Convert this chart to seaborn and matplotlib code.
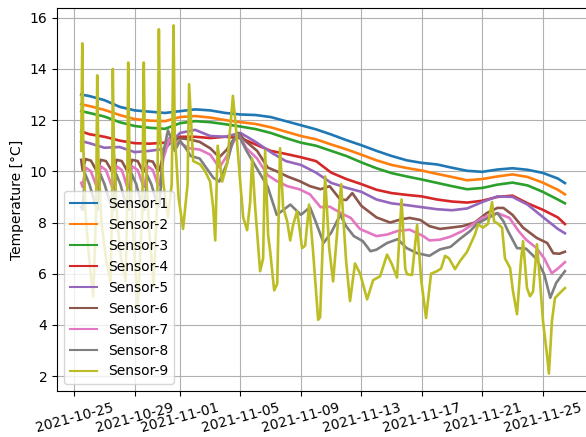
import numpy as np
import pandas as pd
import seaborn as sns
import matplotlib.pyplot as plt

START = pd.Timestamp('2021-10-25')

# sensors 1-5 share a (roughly) daily grid, days after 2021-10-25 00:00
days_a = [0.46, 1, 2, 3, 4, 5, 6, 7, 8, 9, 10, 11, 12, 13, 14, 15, 16, 17,
          18, 19, 20, 21, 22, 23, 24, 25, 26, 27, 28, 29, 30, 31, 32, 32.47]
sensor1 = [13.0, 12.94, 12.78, 12.52, 12.38, 12.33, 12.28, 12.35, 12.42, 12.38,
           12.28, 12.22, 12.2, 12.12, 11.96, 11.8, 11.64, 11.44, 11.22, 11.02,
           10.8, 10.6, 10.43, 10.33, 10.27, 10.14, 10.02, 9.98, 10.07, 10.12,
           10.06, 9.94, 9.72, 9.54]
sensor2 = [12.62, 12.55, 12.4, 12.2, 12.04, 11.98, 11.96, 12.12, 12.16, 12.1,
           12.0, 11.92, 11.85, 11.72, 11.55, 11.38, 11.25, 11.05, 10.86, 10.65,
           10.43, 10.25, 10.13, 10.03, 9.9, 9.78, 9.65, 9.7, 9.8, 9.88,
           9.78, 9.56, 9.28, 9.1]
sensor3 = [12.35, 12.28, 12.14, 11.92, 11.77, 11.7, 11.66, 11.88, 11.96, 11.92,
           11.84, 11.75, 11.65, 11.5, 11.3, 11.12, 11.0, 10.8, 10.6, 10.35,
           10.12, 9.93, 9.8, 9.68, 9.55, 9.42, 9.3, 9.35, 9.48, 9.56,
           9.45, 9.2, 8.9, 8.75]
sensor4 = [11.56, 11.45, 11.35, 11.2, 11.1, 11.08, 11.12, 11.35, 11.35, 11.3,
           11.35, 11.3, 11.05, 10.8, 10.68, 10.55, 10.4, 9.95, 9.7, 9.5,
           9.28, 9.15, 9.08, 9.02, 8.9, 8.82, 8.78, 8.85, 9.0, 9.05,
           8.75, 8.5, 8.2, 7.94]
sensor5 = [11.18, 11.1, 10.92, 10.95, 10.75, 10.8, 10.88, 11.5, 11.62, 11.38,
           11.35, 11.5, 11.15, 10.75, 10.4, 10.25, 9.95, 9.55, 9.36, 9.2,
           8.9, 8.75, 8.68, 8.6, 8.52, 8.48, 8.55, 8.8, 9.02, 9.0,
           8.7, 8.22, 7.75, 7.58]

days6 = [0.46, 0.55, 0.75, 1.1, 1.45, 1.55, 1.75, 2.1, 2.5, 2.6, 2.8, 3.15,
         3.5, 3.62, 3.82, 4.2, 4.55, 4.65, 4.85, 5.2, 5.55, 5.65, 5.9, 6.3,
         6.6, 6.9, 7.6, 8.3, 9.0, 9.6, 10.1, 10.5, 10.85, 11.4, 12.1, 12.8,
         13.4, 14.1, 14.9, 15.6, 16.3, 16.9, 17.6, 18.0, 18.4, 19.0, 20.0,
         20.9, 21.6, 22.2, 22.9, 23.5, 24.2, 24.9, 25.7, 26.5, 27.3, 28.0,
         28.4, 29.0, 29.7, 30.6, 31.3, 31.7, 32.1, 32.47]
sensor6 = [10.45, 10.05, 10.48, 10.42, 10.05, 10.0, 10.45, 10.4, 10.0, 9.98,
           10.45, 10.4, 10.02, 10.0, 10.45, 10.4, 10.0, 10.0, 10.42, 10.38,
           10.0, 10.05, 10.7, 11.3, 11.15, 11.3, 11.25, 11.15, 10.9, 10.55,
           10.85, 11.2, 11.5, 11.15, 10.8, 10.15, 10.0, 9.8, 9.62, 9.42,
           9.3, 9.42, 8.9, 8.88, 9.15, 8.65, 8.2, 8.0, 8.12, 8.18, 8.1,
           7.86, 7.75, 7.8, 7.86, 8.0, 8.37, 8.57, 8.57, 8.3, 7.8, 7.4,
           7.2, 6.8, 6.78, 6.86]

days7 = [0.46, 0.55, 0.75, 1.1, 1.45, 1.55, 1.75, 2.1, 2.5, 2.6, 2.8, 3.15,
         3.5, 3.62, 3.82, 4.2, 4.55, 4.65, 4.85, 5.2, 5.55, 5.65, 5.9, 6.3,
         6.6, 6.9, 7.6, 8.3, 9.0, 9.6, 10.1, 10.5, 10.85, 11.4, 12.1, 12.8,
         13.4, 14.1, 14.9, 15.6, 16.3, 16.9, 17.8, 18.3, 18.9, 20.0, 20.7,
         21.4, 22.2, 23.1, 23.5, 24.2, 24.9, 25.7, 26.5, 27.0, 28.0, 28.3,
         28.8, 29.4, 29.9, 30.6, 31.1, 31.6, 32.0, 32.47]
sensor7 = [9.55, 9.4, 10.15, 10.0, 9.45, 9.35, 10.2, 10.05, 9.4, 9.35,
           10.2, 10.05, 9.4, 9.35, 10.2, 10.05, 9.45, 9.4, 10.2, 10.05,
           9.45, 9.5, 10.5, 11.3, 11.0, 11.15, 10.9, 10.85, 10.65, 10.15,
           10.6, 11.1, 11.45, 10.9, 10.5, 9.85, 9.62, 9.42, 9.3, 9.1,
           8.6, 8.62, 8.32, 8.18, 7.75, 7.47, 7.53, 7.67, 7.72, 7.47,
           7.3, 7.33, 7.45, 7.67, 7.98, 8.18, 8.37, 8.3, 8.18, 7.67,
           7.33, 7.0, 6.6, 6.02, 6.2, 6.45]

days8 = [0.46, 0.55, 0.72, 1.0, 1.45, 1.55, 1.72, 2.0, 2.5, 2.6, 2.77, 3.05,
         3.5, 3.62, 3.8, 4.1, 4.55, 4.65, 4.82, 5.1, 5.55, 5.65, 5.85, 6.2,
         6.55, 6.65, 7.0, 7.5, 7.7, 8.3, 9.2, 9.6, 10.1, 10.5, 10.85, 11.4,
         12.1, 12.8, 13.4, 14.3, 15.0, 15.6, 16.0, 16.5, 17.0, 17.6, 18.0,
         18.5, 19.1, 19.6, 20.0, 20.7, 21.4, 22.0, 22.7, 23.5, 24.2, 24.9,
         25.5, 26.2, 26.7, 27.4, 28.0, 28.4, 28.7, 29.3, 29.9, 30.6, 31.1,
         31.5, 31.9, 32.47]
sensor8 = [8.6, 8.5, 9.9, 9.5, 8.6, 8.5, 9.9, 9.5, 8.55, 8.5, 9.9, 9.5,
           8.55, 8.5, 9.9, 9.5, 8.5, 8.5, 9.85, 9.5, 8.6, 8.7, 10.6, 11.6,
           11.1, 10.8, 11.2, 10.8, 10.6, 10.5, 9.75, 9.6, 10.3, 11.2, 11.45,
           10.8, 10.1, 9.4, 8.3, 8.7, 8.3, 8.6, 8.0, 7.2, 7.6, 8.3, 7.85,
           7.47, 7.27, 6.88, 6.94, 7.2, 7.35, 7.0, 6.8, 6.7, 6.95, 7.05,
           7.35, 7.67, 7.98, 8.18, 8.37, 8.05, 7.67, 7.0, 6.98, 6.57, 5.98,
           5.06, 5.65, 6.1]

days9 = [0.46, 0.53, 0.6, 0.75, 1.0, 1.26, 1.45, 1.52, 1.6, 1.8, 2.1, 2.4,
         2.5, 2.55, 2.63, 2.85, 3.1, 3.4, 3.5, 3.57, 3.65, 3.9, 4.2, 4.5,
         4.6, 4.68, 4.95, 5.25, 5.5, 5.6, 5.68, 5.9, 6.2, 6.45, 6.57, 6.65,
         6.9, 7.2, 7.5, 7.6, 7.87, 8.33, 8.66, 8.99, 9.19, 9.33, 9.49, 9.79,
         10.12, 10.5, 10.7, 10.98, 11.18, 11.44, 11.64, 11.77, 11.97, 12.3,
         12.5, 12.63, 12.83, 12.96, 13.23, 13.43, 13.62, 13.82, 14.09, 14.29,
         14.48, 14.75, 15.08, 15.28, 15.54, 15.8, 16.14, 16.27, 16.6, 16.87,
         17.13, 17.66, 17.99, 18.25, 18.58, 18.92, 19.38, 19.78, 20.24, 20.7,
         21.03, 21.36, 21.66, 21.9, 22.02, 22.35, 22.69, 22.95, 23.28, 23.61,
         24.0, 24.27, 24.54, 24.8, 25.2, 25.53, 25.99, 26.52, 26.72, 27.05,
         27.38, 27.65, 27.78, 28.04, 28.31, 28.5, 28.84, 29.03, 29.3, 29.56,
         29.7, 29.96, 30.16, 30.36, 30.62, 30.82, 31.02, 31.28, 31.41, 31.61,
         31.81, 32.14, 32.47]
sensor9 = [10.8, 15.0, 11.0, 8.3, 6.5, 5.1, 8.6, 13.75, 10.5, 8.0, 6.6, 5.65,
           8.5, 14.0, 10.8, 8.0, 6.6, 5.72, 8.7, 14.25, 10.8, 7.6, 4.7, 8.4,
           14.25, 10.8, 7.8, 5.5, 9.0, 15.55, 11.5, 9.5, 8.2, 9.5, 15.7, 11.5,
           9.0, 7.75, 9.5, 13.4, 10.4, 10.27, 10.0, 9.6, 8.6, 7.3, 11.0, 9.6,
           10.3, 12.95, 11.7, 9.6, 8.2, 7.7, 8.8, 10.5, 8.6, 6.1,
           6.6, 10.8, 7.5, 6.9, 5.35, 5.6, 10.9, 8.6, 8.05, 7.3,
           7.9, 8.45, 7.0, 7.1, 8.7, 6.9, 4.2, 4.3, 9.8, 7.0,
           5.7, 9.5, 6.5, 4.93, 6.4, 6.0, 5.0, 5.75, 5.9, 6.75,
           6.36, 5.85, 8.9, 6.2, 5.98, 5.95, 7.9, 5.8, 4.27, 6.0,
           6.1, 6.2, 6.7, 6.6, 6.18, 6.5, 6.85, 7.54, 7.93, 7.8,
           7.95, 8.8, 8.05, 7.95, 7.8, 6.6, 6.23, 5.33, 4.42, 6.5,
           7.27, 5.44, 5.12, 5.3, 7.15, 5.72, 4.15, 2.85, 2.1, 4.15,
           5.05, 5.25, 5.44]

series = [
    ('Sensor-1', days_a, sensor1),
    ('Sensor-2', days_a, sensor2),
    ('Sensor-3', days_a, sensor3),
    ('Sensor-4', days_a, sensor4),
    ('Sensor-5', days_a, sensor5),
    ('Sensor-6', days6, sensor6),
    ('Sensor-7', days7, sensor7),
    ('Sensor-8', days8, sensor8),
    ('Sensor-9', days9, sensor9),
]

frames = []
for name, d, v in series:
    t = START + pd.to_timedelta(np.array(d), unit='D')
    frames.append(pd.DataFrame({'time': t, 'value': v, 'sensor': name}))
df = pd.concat(frames, ignore_index=True)

fig = plt.figure(figsize=(5.86, 4.37), dpi=100)
ax = fig.add_axes([0.0973, 0.1053, 0.908, 0.8764])
sns.lineplot(data=df, x='time', y='value', hue='sensor', palette='tab10',
             estimator=None, sort=True, linewidth=1.9, ax=ax)
ax.grid(True)
ax.set_xlabel('')
ax.set_ylabel('Temperature [°C]')
plt.setp(ax.get_xticklabels(), rotation=15, ha='center')
sns.move_legend(ax, 'lower left', title=None)
for h in ax.get_legend().get_lines():
    h.set_linewidth(1.5)

fig.savefig('out.png', dpi=100)
